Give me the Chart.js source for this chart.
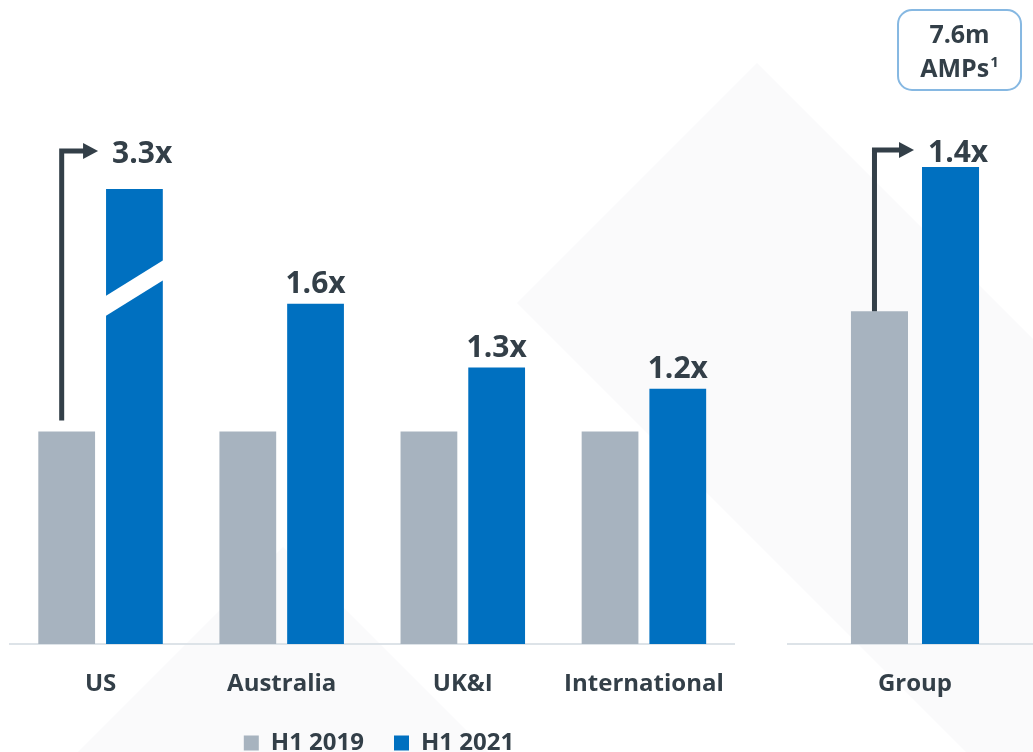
<!DOCTYPE html>
<html>
<head>
<meta charset="utf-8">
<script src="https://cdn.jsdelivr.net/npm/chart.js@4.4.0/dist/chart.umd.min.js"></script>
<style>
  html, body { margin: 0; padding: 0; background: #fff; width: 1033px; height: 752px; overflow: hidden; }
  #bg { position: absolute; left: 0; top: 0; }
  .panel { position: absolute; top: 0; height: 765px; }
  #regionPanel { left: 0; width: 750px; }
  #groupPanel { left: 787px; width: 256px; }
</style>
</head>
<body>
<svg id="bg" width="1033" height="752">
  <polygon points="757,63 1257,563 1017,803 517,303" fill="#fafafb"/>
  <polygon points="283,547 500,764 66,764" fill="#fafafb"/>
</svg>
<div class="panel" id="regionPanel"><canvas id="regionChart"></canvas></div>
<div class="panel" id="groupPanel"><canvas id="groupChart"></canvas></div>
<script>
// AMPs by region, H1 2019 indexed to 1
const regions = ["US", "Australia", "UK&I", "International"];
const regionH119 = [1, 1, 1, 1];
const regionH121 = [3.3, 1.6, 1.3, 1.2];

// group AMPs, millions
const groupLabels = ["Group"];
const groupH119 = [5.3];
const groupH121 = [7.6];

const seriesNames = ["H1 2019", "H1 2021"];

const grey = "#a7b3bf";
const blue = "#0070c0";
const ink = "#333f48";
const fontFamily = "'Open Sans', 'DejaVu Sans', sans-serif";

const drawArrow = (ctx, x, yFrom, y, xTip) => {
  ctx.save();
  ctx.strokeStyle = ink;
  ctx.fillStyle = ink;
  ctx.lineWidth = 5;
  ctx.lineJoin = "miter";
  ctx.beginPath();
  ctx.moveTo(x, yFrom);
  ctx.lineTo(x, y);
  ctx.lineTo(xTip - 12, y);
  ctx.stroke();
  ctx.beginPath();
  ctx.moveTo(xTip, y);
  ctx.lineTo(xTip - 15, y - 8);
  ctx.lineTo(xTip - 15, y + 8);
  ctx.closePath();
  ctx.fill();
  ctx.restore();
};

// white slash across any bar that runs past the top of the axis
const axisBreak = {
  id: "axisBreak",
  afterDatasetsDraw(chart) {
    const ctx = chart.ctx;
    const area = chart.chartArea;
    const max = chart.scales.y.max;
    const values = chart.data.datasets[1].data;
    chart.getDatasetMeta(1).data.forEach((bar, i) => {
      if (values[i] <= max) return;
      const cy = area.top + (area.bottom - area.top) * 0.218;
      const half = bar.width / 2 + 2;
      const slope = -0.62;
      ctx.save();
      ctx.fillStyle = "#ffffff";
      ctx.beginPath();
      ctx.moveTo(bar.x - half, cy - slope * half - 10);
      ctx.lineTo(bar.x + half, cy + slope * half - 10);
      ctx.lineTo(bar.x + half, cy + slope * half + 10);
      ctx.lineTo(bar.x - half, cy - slope * half + 10);
      ctx.closePath();
      ctx.fill();
      ctx.restore();
    });
  },
};

// "1.6x" style growth labels, with the bent arrow on one bar
const multiples = {
  id: "multiples",
  afterDatasetsDraw(chart, args, opts) {
    const ctx = chart.ctx;
    const area = chart.chartArea;
    const before = chart.getDatasetMeta(0).data;
    const oldVals = chart.data.datasets[0].data;
    const newVals = chart.data.datasets[1].data;
    ctx.save();
    ctx.fillStyle = ink;
    ctx.font = "bold 30px " + fontFamily;
    ctx.textBaseline = "alphabetic";
    chart.getDatasetMeta(1).data.forEach((bar, i) => {
      const text = (newVals[i] / oldVals[i]).toFixed(1) + "x";
      const top = Math.max(bar.y, area.top);
      const left = bar.x - bar.width / 2;
      if (i === opts.arrowIndex) {
        const g = before[i];
        const y = top - opts.arrowLift;
        drawArrow(ctx, g.x - 5, g.y - opts.arrowGap, y, left - 8);
        ctx.textAlign = "left";
        ctx.fillText(text, left + 6, y + 12);
      } else {
        ctx.textAlign = "center";
        ctx.fillText(text, bar.x, top - 11);
      }
    });
    ctx.restore();
  },
};

const roundedRect = (ctx, x, y, w, h, r) => {
  ctx.beginPath();
  ctx.moveTo(x + r, y);
  ctx.arcTo(x + w, y, x + w, y + h, r);
  ctx.arcTo(x + w, y + h, x, y + h, r);
  ctx.arcTo(x, y + h, x, y, r);
  ctx.arcTo(x, y, x + w, y, r);
  ctx.closePath();
};

// callout box over the group bar
const ampsBadge = {
  id: "ampsBadge",
  afterDraw(chart) {
    const ctx = chart.ctx;
    const bar = chart.getDatasetMeta(1).data[0];
    const cx = bar.x + 9;
    ctx.save();
    ctx.strokeStyle = "#86b8e2";
    ctx.lineWidth = 2;
    roundedRect(ctx, cx - 61.5, 10, 123, 80, 14);
    ctx.stroke();
    ctx.fillStyle = ink;
    ctx.textBaseline = "alphabetic";
    ctx.textAlign = "center";
    ctx.font = "bold 25px " + fontFamily;
    ctx.fillText(groupH121[0] + "m", cx, 43);
    const main = ctx.measureText("AMPs").width;
    ctx.font = "bold 15px " + fontFamily;
    const sup = ctx.measureText("1").width;
    const start = cx - (main + sup + 1) / 2;
    ctx.textAlign = "left";
    ctx.font = "bold 25px " + fontFamily;
    ctx.fillText("AMPs", start, 77);
    ctx.font = "bold 15px " + fontFamily;
    ctx.fillText("1", start + main + 1, 67);
    ctx.restore();
  },
};

const barChart = (canvasId, labels, oldVals, newVals, cfg) =>
  new Chart(document.getElementById(canvasId), {
    type: "bar",
    data: {
      labels: labels,
      datasets: [
        {
          label: seriesNames[0],
          data: oldVals,
          backgroundColor: grey,
          borderWidth: 0,
          categoryPercentage: cfg.categoryPercentage,
          barPercentage: cfg.barPercentage,
          clip: 0,
        },
        {
          label: seriesNames[1],
          data: newVals,
          backgroundColor: blue,
          borderWidth: 0,
          categoryPercentage: cfg.categoryPercentage,
          barPercentage: cfg.barPercentage,
          clip: 0,
        },
      ],
    },
    options: {
      responsive: true,
      maintainAspectRatio: false,
      animation: false,
      layout: { padding: cfg.padding },
      plugins: {
        legend: {
          display: cfg.legend,
          position: "bottom",
          labels: {
            boxWidth: 15,
            boxHeight: 15,
            padding: 30,
            color: ink,
            font: { family: fontFamily, size: 24, weight: "bold" },
          },
        },
        tooltip: { enabled: false },
        multiples: { arrowIndex: 0, arrowLift: cfg.arrowLift, arrowGap: cfg.arrowGap },
      },
      scales: {
        x: {
          grid: { display: false, drawTicks: false },
          border: { display: true, color: "#dde3e8", width: 2 },
          ticks: {
            color: ink,
            padding: 26,
            maxRotation: 0,
            autoSkip: false,
            font: { family: fontFamily, size: 24, weight: "bold" },
          },
          afterFit: (scale) => {
            scale.height = cfg.axisHeight;
          },
        },
        y: { display: false, min: 0, max: cfg.max },
      },
    },
    plugins: cfg.extra,
  });

barChart("regionChart", regions, regionH119, regionH121, {
  categoryPercentage: 0.748,
  barPercentage: 0.838,
  padding: { top: 189, left: 10, right: 2, bottom: 0 },
  legend: true,
  axisHeight: 57,
  max: 2.14,
  arrowLift: 38,
  arrowGap: 11,
  extra: [axisBreak, multiples],
});

barChart("groupChart", groupLabels, groupH119, groupH121, {
  categoryPercentage: 0.555,
  barPercentage: 0.803,
  padding: { top: 167, left: 0, right: 0, bottom: 0 },
  legend: false,
  axisHeight: 121,
  max: 7.6,
  arrowLift: 17,
  arrowGap: 0,
  extra: [multiples, ampsBadge],
});
</script>
</body>
</html>
